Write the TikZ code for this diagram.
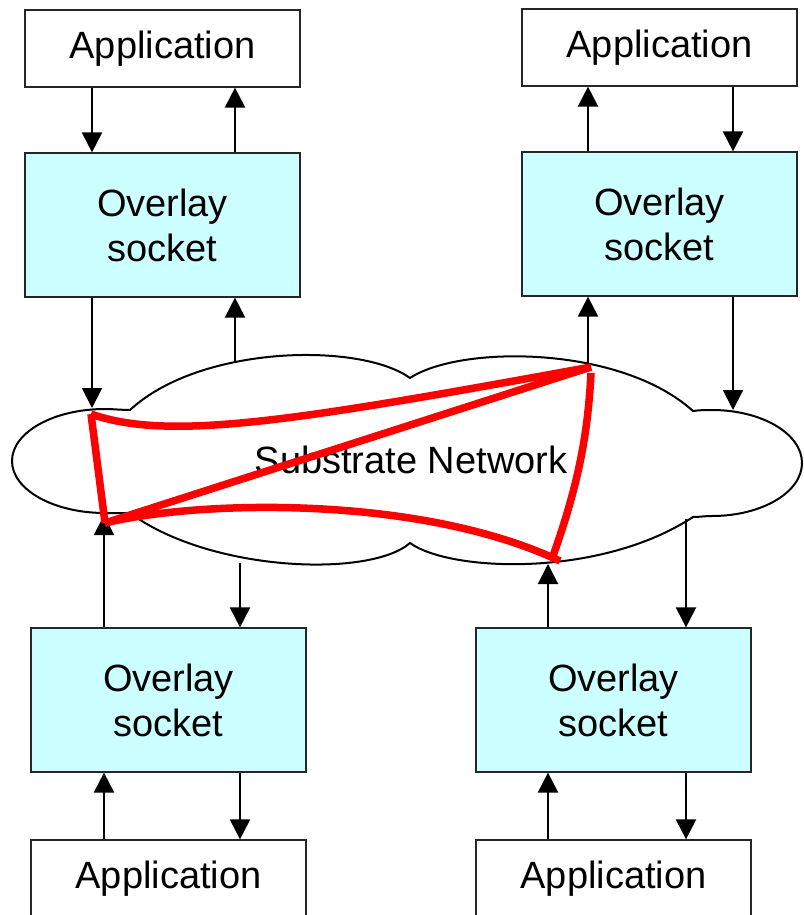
\documentclass[tikz,border=0pt]{standalone}
\usepackage{fontspec}
\setmainfont{Liberation Sans}
\usetikzlibrary{arrows.meta}
\definecolor{sockfill}{HTML}{CCFFFF}
\begin{document}
\begin{tikzpicture}[x=1pt,y=-1pt,
  box/.style={draw=black!85,line width=1.2pt,minimum width=275pt,inner sep=0pt,
              font=\fontsize{38}{45}\selectfont,align=center},
  appbox/.style={box,fill=white,minimum height=77pt},
  sockbox/.style={box,fill=sockfill,minimum height=144pt},
  arr/.style={line width=2pt,-{Triangle[length=20pt,width=20pt]}},
  link/.style={red,line width=7.5pt}]
\useasboundingbox (0,0) rectangle (803,915);

% the substrate network cloud
\draw[line width=2pt,fill=white]
  (130,410) .. controls (200,345) and (360,342) .. (410,378)
  .. controls (460,345) and (620,345) .. (693,411)
  .. controls (700,410) and (706,410) .. (712,410)
  .. controls (761.7,410) and (802,433.7) .. (802,463)
  .. controls (802,492.3) and (761.7,516) .. (712,516)
  .. controls (705,516) and (699,517) .. (693,517)
  .. controls (600,578) and (450,572) .. (410,543)
  .. controls (370,578) and (210,572) .. (130,513)
  .. controls (122,513) and (113,513) .. (105,513)
  .. controls (53.6,513) and (12,489.7) .. (12,461)
  .. controls (12,432.3) and (53.6,409) .. (105,409)
  .. controls (113,409) and (122,410) .. (130,410) -- cycle;
\node[font=\fontsize{38}{45}\selectfont] (net) at (411,460) {Substrate Network};

% points where connectors meet the cloud outline
\coordinate (c1) at (92,408);
\coordinate (c2) at (235,362);
\coordinate (c3) at (588,363);
\coordinate (c4) at (733,410);
\coordinate (c5) at (104,515);
\coordinate (c6) at (240,563);
\coordinate (c7) at (548,564);
\coordinate (c8) at (686,519);

% top-left host
\node[appbox]  (appA)  at (162.5,48.5) {Application};
\node[sockbox] (sockA) at (162.5,225) {Overlay\\socket};
% top-right host
\node[appbox]  (appB)  at (659.5,47.5) {Application};
\node[sockbox] (sockB) at (659.5,224) {Overlay\\socket};
% bottom-left host
\node[sockbox] (sockC) at (168.5,700) {Overlay\\socket};
\node[appbox]  (appC)  at (168.5,878.5) {Application};
% bottom-right host
\node[sockbox] (sockD) at (613.5,700) {Overlay\\socket};
\node[appbox]  (appD)  at (613.5,878.5) {Application};

% top-left connectors
\draw[arr] (92,0 |- appA.south) -- (92,0 |- sockA.north);
\draw[arr] (235,0 |- sockA.north) -- (235,0 |- appA.south);
\draw[arr] (92,0 |- sockA.south) -- (c1);
\draw[arr] (c2) -- (235,0 |- sockA.south);
% top-right connectors
\draw[arr] (588,0 |- sockB.north) -- (588,0 |- appB.south);
\draw[arr] (733,0 |- appB.south) -- (733,0 |- sockB.north);
\draw[arr] (c3) -- (588,0 |- sockB.south);
\draw[arr] (733,0 |- sockB.south) -- (c4);
% bottom-left connectors
\draw[arr] (104,0 |- sockC.north) -- (c5);
\draw[arr] (c6) -- (240,0 |- sockC.north);
\draw[arr] (104,0 |- appC.north) -- (104,0 |- sockC.south);
\draw[arr] (240,0 |- sockC.south) -- (240,0 |- appC.north);
% bottom-right connectors
\draw[arr] (548,0 |- sockD.north) -- (c7);
\draw[arr] (c8) -- (686,0 |- sockD.north);
\draw[arr] (548,0 |- appD.north) -- (548,0 |- sockD.south);
\draw[arr] (686,0 |- sockD.south) -- (686,0 |- appD.north);

% overlay links between the hosts
\coordinate (pA) at (91,414);
\coordinate (pB) at (591,367);
\coordinate (pB2) at (591,373);
\coordinate (pC) at (553,556);
\coordinate (pC2) at (560,561);
\coordinate (pD) at (105,523);
\draw[link] (pA) .. controls (170,442) and (300,420) .. (pB);
\draw[link] (pD) -- (pB);
\draw[link] (pD) -- (pA);
\draw[link] (pB2) .. controls (588,430) and (580,480) .. (pC);
\draw[link] (pD) .. controls (200,500) and (420,495) .. (pC2);
\end{tikzpicture}
\end{document}
